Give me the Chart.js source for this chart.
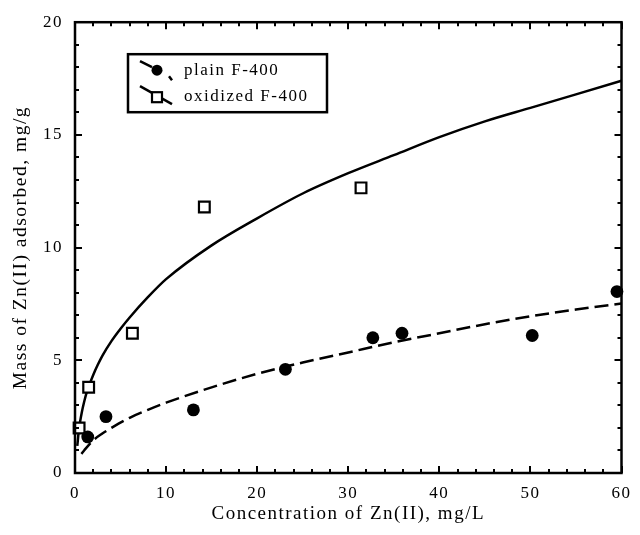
<!DOCTYPE html>
<html>
<head>
<meta charset="utf-8">
<title>Zn(II) adsorption on F-400</title>
<script src="https://cdn.jsdelivr.net/npm/chart.js@4.4.1/dist/chart.umd.min.js"></script>
<style>
	html, body { margin: 0; padding: 0; background: #fff; }
	#wrap { position: relative; width: 640px; height: 535px; }
</style>
</head>
<body>
<div id="wrap"><canvas id="zn-chart"></canvas></div>
<script>
/* global Chart */

// ----------------------------------------------------------------
// Data
// ----------------------------------------------------------------
var PLAIN_X = [ 1.4, 3.4, 13.0, 23.1, 32.7, 35.9, 50.2, 59.5 ];
var PLAIN_Y = [ 1.6, 2.5, 2.8, 4.6, 6.0, 6.2, 6.1, 8.05 ];

var OXID_X = [ 0.45, 1.5, 6.3, 14.2, 31.4 ];
var OXID_Y = [ 2.0, 3.8, 6.2, 11.8, 12.65 ];

// fitted isotherm curves
var OXID_FIT_X = [ 0.25, 0.4, 0.55, 0.75, 1, 1.3, 1.66, 2, 2.5, 3, 4, 5, 6, 8, 10, 15, 20, 25, 30, 35, 40, 45, 50, 55, 60 ];
var OXID_FIT_Y = [ 1.2, 1.8, 2.25, 2.7, 3.15, 3.6, 4.0, 4.35, 4.8, 5.2, 5.85, 6.4, 6.9, 7.8, 8.6, 10.1, 11.3, 12.4, 13.3, 14.1, 14.9, 15.6, 16.2, 16.8, 17.4 ];

var PLAIN_FIT_X = [ 0.7, 1, 2, 3, 4, 6, 8, 10, 15, 20, 25, 30, 35, 40, 45, 50, 55, 60 ];
var PLAIN_FIT_Y = [ 0.85, 1.0, 1.45, 1.75, 2.0, 2.45, 2.8, 3.12, 3.8, 4.4, 4.9, 5.35, 5.8, 6.2, 6.6, 6.95, 7.25, 7.52 ];

var LEGEND_LABELS = [ 'plain F-400', 'oxidized F-400' ];

var X_MIN = 0, X_MAX = 60, X_MAJOR = 10, X_MINOR = 2;
var Y_MIN = 0, Y_MAX = 20, Y_MAJOR = 5, Y_MINOR = 1;

( function () {
	'use strict';

	var FONT = "'Liberation Serif', 'Times New Roman', serif";

	function pairs( xs, ys ) {
		return xs.map( function ( x, i ) { return { x: x, y: ys[ i ] }; } );
	}

	// Canvas text in the figure is slightly tracked out
	var tracking = {
		id: 'tracking',
		beforeDraw: function ( chart ) {
			chart.ctx.letterSpacing = '1.5px';
		}
	};

	// Box frame + inward ticks on all four sides
	var frameTicks = {
		id: 'frameTicks',
		afterDatasetsDraw: function ( chart ) {
			var ctx = chart.ctx, a = chart.chartArea;
			var xs = chart.scales.x, ys = chart.scales.y;
			var v, p, len;

			ctx.save();
			ctx.strokeStyle = '#000';
			ctx.lineWidth = 2;
			ctx.beginPath();
			for ( v = X_MIN; v <= X_MAX; v += X_MINOR ) {
				p = Math.round( xs.getPixelForValue( v ) );
				len = v % X_MAJOR === 0 ? 7 : 4;
				ctx.moveTo( p, a.bottom ); ctx.lineTo( p, a.bottom - len );
				ctx.moveTo( p, a.top );    ctx.lineTo( p, a.top + len );
			}
			for ( v = Y_MIN; v <= Y_MAX; v += Y_MINOR ) {
				p = Math.round( ys.getPixelForValue( v ) );
				len = v % Y_MAJOR === 0 ? 7 : 4;
				ctx.moveTo( a.left, p );  ctx.lineTo( a.left + len, p );
				ctx.moveTo( a.right, p ); ctx.lineTo( a.right - len, p );
			}
			ctx.stroke();

			ctx.lineWidth = 2.5;
			ctx.strokeRect( a.left, a.top, a.right - a.left, a.bottom - a.top );
			ctx.restore();
		}
	};

	// Boxed legend in the upper left
	var boxLegend = {
		id: 'boxLegend',
		afterDraw: function ( chart ) {
			var ctx = chart.ctx, a = chart.chartArea;
			var bx = a.left + 53, by = a.top + 32, bw = 199, bh = 58;

			ctx.save();
			ctx.fillStyle = '#fff';
			ctx.fillRect( bx, by, bw, bh );
			ctx.strokeStyle = '#000';
			ctx.lineWidth = 2.5;
			ctx.strokeRect( bx, by, bw, bh );

			// row 1: dashed line + filled circle
			ctx.lineWidth = 2.5;
			ctx.beginPath();
			ctx.moveTo( bx + 12, by + 7 );  ctx.lineTo( bx + 24, by + 13 );
			ctx.moveTo( bx + 41, by + 22 ); ctx.lineTo( bx + 44, by + 26 );
			ctx.stroke();
			ctx.fillStyle = '#000';
			ctx.beginPath();
			ctx.arc( bx + 29, by + 16, 5.5, 0, Math.PI * 2 );
			ctx.fill();

			// row 2: solid line + open square
			ctx.beginPath();
			ctx.moveTo( bx + 12, by + 32 ); ctx.lineTo( bx + 44, by + 50 );
			ctx.stroke();
			ctx.fillStyle = '#fff';
			ctx.lineWidth = 2.2;
			ctx.fillRect( bx + 24, by + 38, 10, 10 );
			ctx.strokeRect( bx + 24, by + 38, 10, 10 );

			ctx.fillStyle = '#000';
			ctx.font = '17px ' + FONT;
			ctx.textBaseline = 'middle';
			ctx.textAlign = 'left';
			ctx.fillText( LEGEND_LABELS[ 0 ], bx + 56, by + 16 );
			ctx.fillText( LEGEND_LABELS[ 1 ], bx + 56, by + 42 );
			ctx.restore();
		}
	};

	Chart.defaults.font.family = FONT;
	Chart.defaults.color = '#000';

	new Chart( document.getElementById( 'zn-chart' ), {
		type: 'scatter',
		data: {
			datasets: [
				{
					label           : LEGEND_LABELS[ 0 ],
					data            : pairs( PLAIN_X, PLAIN_Y ),
					pointStyle      : 'circle',
					pointRadius     : 6.4,
					backgroundColor : '#000',
					borderColor     : '#000',
					borderWidth     : 0,
					clip            : false,
					order           : 0,
				},
				{
					label           : LEGEND_LABELS[ 1 ],
					data            : pairs( OXID_X, OXID_Y ),
					pointStyle      : 'rect',
					pointRadius     : 7.6,
					backgroundColor : '#fff',
					borderColor     : '#000',
					borderWidth     : 2.2,
					clip            : false,
					order           : 0,
				},
				{
					label                  : 'oxidized fit',
					data                   : pairs( OXID_FIT_X, OXID_FIT_Y ),
					showLine               : true,
					pointRadius            : 0,
					borderColor            : '#000',
					borderWidth            : 2.5,
					cubicInterpolationMode : 'monotone',
					order                  : 1,
				},
				{
					label                  : 'plain fit',
					data                   : pairs( PLAIN_FIT_X, PLAIN_FIT_Y ),
					showLine               : true,
					pointRadius            : 0,
					borderColor            : '#000',
					borderWidth            : 2.5,
					borderDash             : [ 14, 6 ],
					cubicInterpolationMode : 'monotone',
					order                  : 1,
				},
			],
		},
		options: {
			responsive          : true,
			maintainAspectRatio : false,
			animation           : false,
			events              : [],
			layout              : { padding: { top: 21, right: 11, left: 0, bottom: 0 } },
			plugins             : { legend: { display: false }, tooltip: { enabled: false } },
			scales: {
				x: {
					type   : 'linear',
					min    : X_MIN,
					max    : X_MAX,
					grid   : { display: false, drawTicks: false },
					border : { display: false },
					ticks  : { stepSize: X_MAJOR, padding: 10, font: { size: 17 } },
					title  : {
						display : true,
						text    : 'Concentration of Zn(II), mg/L',
						font    : { size: 19 },
						padding : { top: 0, bottom: 10 },
					},
					afterFit: function ( scale ) { scale.height = 62; },
				},
				y: {
					type   : 'linear',
					min    : Y_MIN,
					max    : Y_MAX,
					grid   : { display: false, drawTicks: false },
					border : { display: false },
					ticks  : { stepSize: Y_MAJOR, padding: 12, font: { size: 17 } },
					title  : {
						display : true,
						text    : 'Mass of Zn(II) adsorbed, mg/g',
						font    : { size: 19.5 },
						padding : { top: 9, bottom: 0 },
					},
					afterFit: function ( scale ) { scale.width = 75; },
				},
			},
		},
		plugins: [ tracking, frameTicks, boxLegend ],
	} );
}() );
</script>
</body>
</html>
